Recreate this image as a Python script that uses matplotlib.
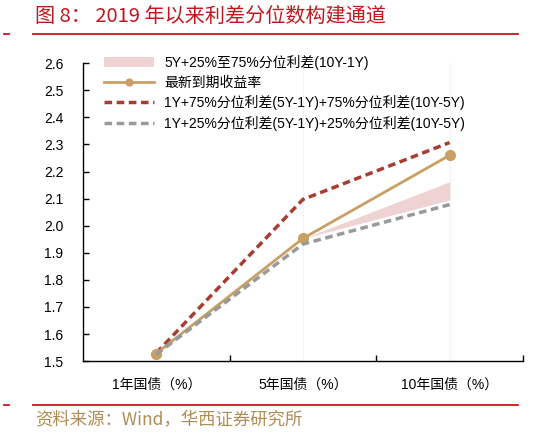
import matplotlib
matplotlib.use("Agg")
from matplotlib import pyplot as plt
from matplotlib.lines import Line2D

plt.rcParams['font.family'] = ['Liberation Sans', 'Noto Sans CJK SC', 'DejaVu Sans']

# data
categories = ['1年国债（%）', '5年国债（%）', '10年国债（%）']
latest_yield = [1.528, 1.953, 2.26]
upper_75 = [1.53, 2.097, 2.307]
lower_25 = [1.525, 1.932, 2.078]
band_x = [1, 2]
band_low = [1.953, 2.095]
band_high = [1.953, 2.162]

fig = plt.figure(figsize=(5.38, 4.33), dpi=100)
ax = fig.add_axes([0.154, 0.166, 0.818, 0.688])

x = list(range(len(categories)))
for xc in [1, 2]:
    ax.axvline(xc, color='#f3f3f3', lw=0.8, zorder=0)

ax.fill_between(band_x, band_low, band_high, color='#efd3d3', lw=0,
                label='5Y+25%至75%分位利差(10Y-1Y)', zorder=1)
ax.plot(x, latest_yield, color='#c9a063', lw=2, marker='o', ms=7,
        label='最新到期收益率', zorder=3)
ax.plot(x, upper_75, color='#a63e33', lw=2.5, ls=(0, (2.2, 1.3)),
        label='1Y+75%分位利差(5Y-1Y)+75%分位利差(10Y-5Y)', zorder=2)
ax.plot(x, lower_25, color='#999999', lw=2.5, ls=(0, (2.2, 1.3)),
        label='1Y+25%分位利差(5Y-1Y)+25%分位利差(10Y-5Y)', zorder=4)

ax.set_xlim(-0.5, 2.5)
ax.set_ylim(1.5, 2.6)
ax.set_yticks([1.5 + 0.1 * i for i in range(12)])
ax.set_yticklabels(['%.1f' % (1.5 + 0.1 * i) for i in range(12)])
ax.set_xticks(x)
ax.set_xticklabels(categories)
ax.set_xticks([0.5, 1.5, 2.5], minor=True)
ax.tick_params(axis='x', which='major', length=0, pad=12, labelsize=10)
ax.tick_params(axis='x', which='minor', direction='in', length=4, width=1)
ax.tick_params(axis='y', direction='in', length=4, width=1, pad=14, labelsize=10)
for s in ['top', 'right']:
    ax.spines[s].set_visible(False)
for s in ['left', 'bottom']:
    ax.spines[s].set_linewidth(1)

ax.legend(loc='upper left', bbox_to_anchor=(0.03, 1.055), frameon=False,
          fontsize=10, handlelength=3.6, labelspacing=0.4, handletextpad=0.7,
          borderaxespad=0.2, markerscale=0.7)

# title, separators, source
fig.text(0.065, 0.962, '图 8： 2019 年以来利差分位数构建通道', color='#c0181f',
         fontsize=14.5, va='center', family=['Noto Sans CJK SC', 'DejaVu Sans'])
for yy in [0.921, 0.065]:
    fig.add_artist(Line2D([0.062, 0.962], [yy, yy], color='#d0121b', lw=1.3))
    fig.add_artist(Line2D([0.008, 0.016], [yy, yy], color='#d0121b', lw=1.3))
fig.text(0.065, 0.03, '资料来源：Wind，华西证券研究所', color='#b08c55',
         fontsize=12.5, va='center', family=['Noto Sans CJK SC', 'DejaVu Sans'])

fig.savefig('out.png', dpi=100)
